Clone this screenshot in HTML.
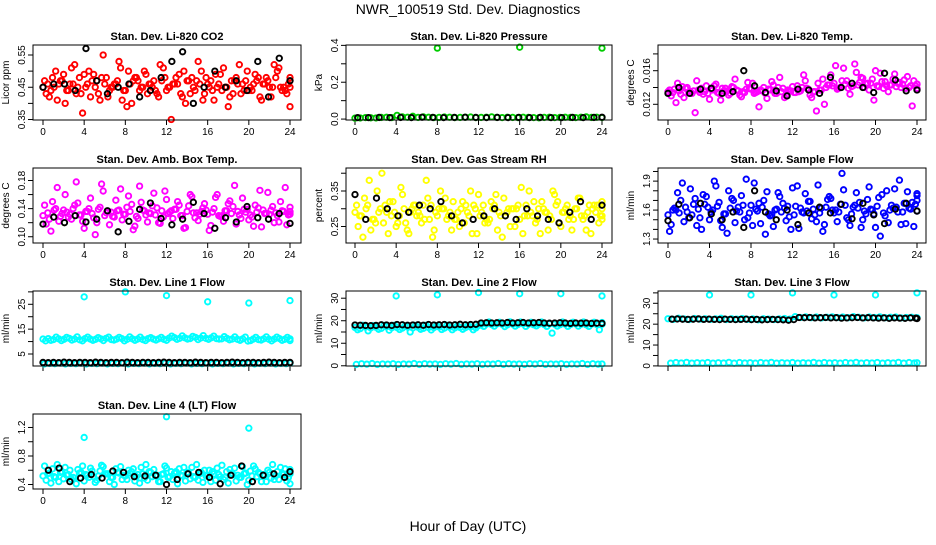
<!DOCTYPE html>
<html><head><meta charset="utf-8"><style>
body{margin:0;background:#fff;width:936px;height:540px;overflow:hidden}
svg text{font-family:"Liberation Sans",sans-serif}
</style></head><body>
<svg id="chart" width="936" height="540" viewBox="0 0 936 540" xmlns="http://www.w3.org/2000/svg">
<rect width="936" height="540" fill="#fff"/>
<text x="468" y="14" text-anchor="middle" font-size="14">NWR_100519  Std. Dev. Diagnostics</text>
<text x="468" y="531" text-anchor="middle" font-size="14">Hour of Day (UTC)</text>
</svg>
<script>
// ---- data ----
const xTicks=[0,4,8,12,16,20,24];
const co2A=[0.45,0.42,0.50,0.47,0.44,0.52,0.43,0.46,0.49,0.41,0.48,0.45,0.53,0.44,0.40,0.47,0.50,0.46,0.43,0.51,0.45,0.48,0.42,0.47,0.44,0.50,0.46,0.41,0.49,0.45,0.43,0.52,0.47,0.44,0.48,0.46,0.42,0.50,0.45,0.47];
const co2B=[0.43,0.48,0.46,0.40,0.51,0.45,0.49,0.42,0.47,0.55,0.44,0.46,0.41,0.50,0.48,0.45,0.43,0.47,0.52,0.44,0.46,0.49,0.40,0.48,0.53,0.43,0.47,0.45,0.51,0.42,0.48,0.46,0.44,0.49,0.41,0.47,0.52,0.45,0.43,0.48];
const co2C=[0.47,0.44,0.41,0.49,0.46,0.43,0.37,0.50,0.45,0.48,0.42,0.46,0.51,0.39,0.47,0.44,0.49,0.45,0.42,0.48,0.35,0.46,0.50,0.43,0.47,0.41,0.45,0.49,0.44,0.39,0.47,0.43,0.50,0.46,0.42,0.48,0.45,0.51,0.44,0.39];
const co2D=[0.46,0.45,0.47,0.44,0.46,0.48,0.45,0.47,0.43,0.46,0.45,0.47,0.44,0.46,0.48,0.45,0.46,0.44,0.47,0.45,0.46,0.43,0.47,0.45,0.46,0.48,0.44,0.46,0.45,0.47,0.46,0.44,0.45,0.47,0.46,0.45,0.48,0.44,0.46,0.45];
const co2K=[0.45,0.46,0.46,0.44,0.57,0.47,0.43,0.45,0.46,0.42,0.44,0.48,0.53,0.56,0.40,0.45,0.50,0.45,0.47,0.44,0.53,0.42,0.54,0.47];
const presG=[0.005,0.006,0.008,0.007,0.006,0.009,0.01,0.008,0.02,0.012,0.01,0.015,0.009,0.012,0.01,0.008,0.009,0.011,0.01,0.008,0.009,0.01,0.011,0.008,0.009,0.01,0.012,0.009,0.008,0.01,0.009,0.008,0.01,0.009,0.008,0.007,0.009,0.01,0.008,0.009,0.01,0.009,0.008,0.01,0.012,0.009,0.01,0.008];
const presOutHours=[8,16,24];
const presOut=[0.385,0.39,0.385];
const presK=[0.008,0.008,0.009,0.008,0.009,0.008,0.01,0.009,0.008,0.009,0.01,0.009,0.008,0.009,0.008,0.009,0.008,0.009,0.008,0.008,0.009,0.008,0.009,0.01];
const tmpA=[.0135,.0138,.0132,.0140,.0136,.0134,.0142,.0137,.0133,.0139,.0141,.0136,.0134,.0138,.0135,.0140,.0137,.0133,.0139,.0136,.0134,.0140,.0138,.0135,.0137,.0143,.0145,.0140,.0148,.0142,.0146,.0144,.0150,.0141,.0147,.0143,.0145,.0149,.0142,.0144];
const tmpB=[.0130,.0145,.0128,.0135,.0148,.0132,.0126,.0144,.0139,.0131,.0150,.0129,.0146,.0133,.0137,.0127,.0143,.0152,.0130,.0141,.0135,.0148,.0128,.0145,.0120,.0155,.0138,.0163,.0132,.0158,.0151,.0137,.0160,.0147,.0135,.0156,.0140,.0153,.0148,.0138];
const tmpC=[.0137,.0122,.0141,.0134,.0110,.0139,.0133,.0142,.0125,.0136,.0140,.0131,.0138,.0145,.0117,.0133,.0147,.0140,.0128,.0136,.0142,.0155,.0131,.0112,.0150,.0143,.0166,.0148,.0139,.0168,.0152,.0145,.0125,.0157,.0142,.0150,.0146,.0139,.0118,.0144];
const tmpD=[.0134,.0136,.0139,.0133,.0137,.0135,.0138,.0134,.0136,.0133,.0137,.0135,.0139,.0134,.0136,.0138,.0133,.0135,.0137,.0134,.0136,.0139,.0135,.0137,.0140,.0142,.0139,.0144,.0141,.0143,.0140,.0145,.0142,.0139,.0143,.0141,.0144,.0140,.0142,.0139];
const tmpK=[.0133,.0140,.0133,.0138,.0139,.0133,.0135,.0160,.0142,.0134,.0136,.0130,.0138,.0137,.0133,.0152,.0140,.0145,.0140,.0134,.0157,.0149,.0136,.0137];
const ambA=[.130,.125,.140,.133,.128,.145,.131,.136,.127,.142,.134,.129,.138,.132,.146,.126,.137,.133,.141,.128,.135,.139,.130,.144,.127,.136,.132,.140,.129,.137,.143,.131,.135,.128,.141,.133,.138,.130,.136,.132];
const ambB=[.118,.150,.122,.160,.125,.148,.112,.155,.120,.165,.117,.152,.124,.158,.115,.149,.121,.162,.119,.153,.126,.145,.113,.157,.123,.147,.116,.160,.122,.151,.118,.155,.124,.145,.114,.163,.120,.150,.117,.142];
const ambC=[.145,.108,.170,.138,.132,.178,.122,.140,.103,.175,.136,.128,.168,.142,.110,.172,.131,.144,.120,.165,.137,.150,.112,.160,.134,.141,.109,.156,.130,.147,.173,.126,.139,.115,.166,.133,.143,.121,.170,.135];
const ambD=[.134,.138,.129,.135,.140,.131,.136,.133,.139,.130,.135,.137,.132,.136,.129,.138,.134,.131,.137,.133,.139,.130,.136,.134,.132,.138,.135,.130,.137,.133,.136,.139,.131,.135,.138,.132,.134,.137,.131,.136];
const ambK=[.118,.128,.120,.130,.121,.125,.137,.107,.122,.139,.148,.126,.117,.125,.149,.133,.112,.127,.121,.143,.127,.125,.133,.119];
const rhA=[.29,.28,.31,.27,.30,.29,.32,.28,.26,.30,.29,.27,.31,.28,.30,.29,.27,.32,.28,.30,.29,.26,.31,.28,.29,.30,.27,.31,.28,.30,.29,.27,.32,.29,.28,.30,.27,.31,.29,.28];
const rhB=[.25,.33,.24,.35,.26,.32,.25,.34,.23,.31,.26,.33,.24,.35,.27,.32,.25,.31,.23,.34,.26,.32,.24,.33,.25,.30,.23,.35,.26,.32,.24,.34,.25,.31,.27,.33,.24,.30,.26,.32];
const rhC=[.31,.22,.38,.26,.40,.23,.29,.36,.24,.31,.28,.38,.22,.30,.33,.24,.29,.26,.35,.23,.31,.27,.34,.22,.30,.25,.36,.28,.32,.23,.29,.35,.26,.30,.24,.33,.28,.23,.31,.27];
const rhD=[.28,.30,.27,.29,.31,.28,.26,.30,.29,.28,.31,.27,.29,.30,.28,.27,.30,.29,.31,.28,.27,.30,.29,.28,.30,.31,.28,.29,.27,.30,.28,.31,.29,.27,.30,.28,.29,.31,.28,.30];
const rhK=[.34,.27,.33,.30,.28,.29,.31,.30,.32,.28,.26,.27,.28,.30,.28,.27,.30,.28,.27,.26,.29,.32,.27,.31];
const sfA=[1.55,1.62,1.70,1.58,1.66,1.52,1.74,1.60,1.68,1.56,1.72,1.63,1.50,1.65,1.59,1.70,1.54,1.61,1.67,1.53,1.64,1.58,1.69,1.55,1.62,1.71,1.57,1.66,1.52,1.63,1.68,1.56,1.60,1.73,1.54,1.65,1.58,1.67,1.61,1.70];
const sfB=[1.45,1.78,1.48,1.82,1.44,1.76,1.50,1.85,1.42,1.80,1.47,1.75,1.52,1.88,1.46,1.79,1.43,1.74,1.49,1.83,1.41,1.77,1.51,1.86,1.45,1.72,1.48,1.81,1.44,1.78,1.50,1.84,1.42,1.76,1.47,1.82,1.45,1.79,1.43,1.75];
const sfC=[1.38,1.60,1.88,1.52,1.72,1.40,1.63,1.90,1.49,1.36,1.70,1.58,1.92,1.44,1.67,1.35,1.55,1.78,1.62,1.40,1.85,1.57,1.69,1.48,1.38,1.74,1.60,1.98,1.50,1.65,1.42,1.71,1.56,1.33,1.80,1.62,1.91,1.46,1.68,1.77];
const sfD=[1.60,1.57,1.63,1.55,1.61,1.66,1.58,1.64,1.56,1.62,1.59,1.65,1.57,1.61,1.63,1.56,1.60,1.58,1.64,1.55,1.62,1.59,1.61,1.57,1.63,1.60,1.58,1.65,1.56,1.62,1.59,1.61,1.64,1.57,1.60,1.63,1.58,1.62,1.66,1.59];
const sfK=[1.49,1.66,1.52,1.67,1.56,1.50,1.58,1.42,1.80,1.58,1.50,1.60,1.45,1.57,1.63,1.57,1.66,1.51,1.67,1.55,1.46,1.61,1.67,1.59];
const l1A=[11,11.2,10.8,11.1,10.9,11.3,11,10.7,11.2,11,10.9,11.1,11.3,10.8,11,11.2,10.9,11.1,11,10.8,11.2,11,11.1,10.9,11.4,11.6,11.3,11.5,11.2,11.7,11.4,11.3,11.5,11.2,11.1,11.3,11,10.9,11.1,10.2,11,10.8,11.1,10.9,11,11.2,10.9,11.1];
const l1B=[10.3,10.5,11.8,10.4,11.7,10.6,11.9,10.3,11.8,10.5,11.6,10.4,11.8,10.6,11.7,10.3,11.9,10.5,11.8,10.4,11.6,10.6,11.7,10.5,12.2,10.9,12.3,11,12.1,10.8,12.4,10.9,12.2,11,12.0,10.7,11.9,10.5,11.8,10.4,11.7,10.6,11.9,10.3,11.8,10.5,11.7,10.4];
const l1Low=[1.0,1.2,1.1,1.3,1.0,1.2,1.1,1.3,1.0,1.2,1.1,1.3,1.0,1.2,1.1,1.3,1.0,1.2,1.1,1.3,1.0,1.2,1.1,1.3,1.0,1.2,1.1,1.3,1.0,1.2,1.1,1.3,1.0,1.2,1.1,1.3,1.0,1.2,1.1,1.3,1.0,1.2,1.1,1.3,1.0,1.2,1.1,1.3];
const l1K=[1.6,1.5,1.6,1.5,1.7,1.6,1.5,1.6,1.6,1.5,1.7,1.6,1.5,1.6,1.6,1.5,1.7,1.6,1.5,1.6,1.6,1.5,1.6,1.7,1.6,1.5,1.6,1.6,1.5,1.7,1.6,1.5,1.6,1.6,1.5,1.6,1.7,1.6,1.5,1.6,1.6,1.5,1.6,1.7,1.6,1.5,1.6,1.6];
const flowOutHours=[4,8,12,16,20,24];
const l1Out=[28,30,28.5,26,25.5,26.5];
const l2A=[17,16.5,17.2,16.8,17.1,16.6,17.3,16.9,17,16.7,17.2,16.8,17.1,16.6,17,16.9,17.2,16.7,17.1,16.8,17,16.9,17.2,16.8,18.2,18.5,18.3,18.6,18.4,18.2,18.5,18.3,18.6,18.4,18.2,18.5,18.3,18.6,18.4,18.2,18.5,18.3,18.6,18.4,18.2,18.5,18.3,18.4];
const l2B=[16,18,15.5,17.8,16.2,17.9,15.8,18,16.1,17.7,15,17.9,16.2,18,15.9,17.8,16.1,18,16,17.8,16.2,17.9,16,17.8,17.5,19.4,17.6,19.3,17.4,19.5,17.6,19.4,17.5,19.3,17.7,19.4,17.5,14.5,17.6,19.4,17.5,19.3,17.6,19.4,17.5,19.3,16,19.2];
const l2Low=[0.6,0.9,0.7,1.0,0.6,0.8,0.7,0.9,0.6,0.8,0.7,1.0,0.6,0.9,0.7,0.8,0.6,0.9,0.7,1.0,0.6,0.8,0.7,0.9,0.6,0.8,0.7,1.0,0.6,0.9,0.7,0.8,0.6,0.9,0.7,1.0,0.6,0.8,0.7,0.9,0.6,0.8,0.7,1.0,0.6,0.9,0.7,0.8];
const l2K=[18.1,18.0,17.9,17.8,17.9,18.2,18.1,17.9,18.3,18.2,18.0,18.1,18.2,18.0,18.3,18.1,18.2,18.3,18.1,18.2,18.4,18.2,18.3,18.4,19.0,19.1,19.0,19.1,19.0,19.2,19.0,19.1,19.2,19.0,19.1,19.2,19.0,18.9,19.0,19.1,19.0,18.8,19.0,18.9,19.0,18.8,18.9,18.8];
const l2Out=[31,31.5,32.5,32,32,31];
const l3A=[22.6,22.3,22.8,22.5,22.2,22.7,22.4,22.6,22.3,22.5,22.8,22.2,22.6,22.4,22.7,22.3,22.5,22.1,22.6,22.4,22.2,22.5,22.7,22.4,23.6,23.2,23.5,23.1,23.4,23.0,23.3,23.5,23.2,23.4,23.1,23.6,23.3,23.0,23.4,23.2,23.5,23.1,23.3,23.4,23.0,23.2,23.3,23.1];
const l3K=[22.4,22.5,22.4,22.3,22.4,22.5,22.3,22.4,22.3,22.2,22.4,22.3,22.2,22.3,22.4,22.2,22.3,22.1,22.2,22.3,22.2,22.1,21.9,22.2,23.2,23.1,23.2,23.0,23.1,23.2,23.0,23.1,22.9,23.0,23.1,23.2,23.0,23.1,23.0,22.9,23.0,22.8,23.0,22.9,22.8,23.0,22.9,22.7];
const l3Low=[1.3,1.6,1.4,1.7,1.3,1.5,1.4,1.6,1.3,1.5,1.4,1.7,1.3,1.6,1.4,1.5,1.3,1.6,1.4,1.7,1.3,1.5,1.4,1.6,1.3,1.5,1.4,1.7,1.3,1.6,1.4,1.5,1.3,1.6,1.4,1.7,1.3,1.5,1.4,1.6,1.3,1.5,1.4,1.7,1.3,1.6,1.4,1.5];
const l3Out=[34,34,35,34,34,35];
const l4A=[0.52,0.56,0.50,0.58,0.54,0.49,0.57,0.53,0.51,0.59,0.55,0.50,0.56,0.52,0.58,0.54,0.49,0.57,0.53,0.55,0.51,0.58,0.52,0.56,0.50,0.57,0.53,0.55,0.51,0.58,0.54,0.50,0.56,0.52,0.57,0.53,0.49,0.58,0.54,0.55];
const l4B=[0.46,0.62,0.44,0.64,0.47,0.61,0.45,0.63,0.46,0.65,0.44,0.62,0.47,0.60,0.45,0.64,0.46,0.61,0.44,0.63,0.47,0.62,0.45,0.64,0.46,0.60,0.44,0.63,0.47,0.61,0.45,0.65,0.46,0.62,0.44,0.60,0.47,0.64,0.45,0.61];
const l4C=[0.66,0.42,0.68,0.48,0.60,0.41,0.66,0.50,0.43,0.67,0.55,0.40,0.65,0.47,0.62,0.42,0.68,0.51,0.44,0.66,0.58,0.41,0.64,0.48,0.68,0.43,0.60,0.46,0.67,0.42,0.63,0.50,0.40,0.66,0.55,0.44,0.68,0.47,0.62,0.41];
const l4D=[0.55,0.51,0.57,0.53,0.50,0.56,0.54,0.59,0.52,0.55,0.50,0.57,0.53,0.56,0.51,0.55,0.58,0.52,0.54,0.50,0.56,0.53,0.57,0.51,0.55,0.52,0.58,0.54,0.50,0.56,0.53,0.55,0.59,0.51,0.54,0.57,0.52,0.55,0.50,0.56];
const l4K=[0.60,0.63,0.44,0.49,0.54,0.49,0.59,0.57,0.51,0.52,0.53,0.40,0.47,0.55,0.57,0.50,0.41,0.53,0.66,0.44,0.53,0.55,0.50,0.58];
const l4OutHours=[4,12,20];
const l4Out=[1.06,1.35,1.19];

// ---- layout ----
const svg=document.getElementById('chart');
const NS='http://www.w3.org/2000/svg';
const cols=[{l:33,r:301,x0:43,x24:290},{l:346,r:612,x0:355,x24:602},{l:658,r:926,x0:668,x24:917}];
const rows=[45,168,291,414];
const H=75;
function el(tag,attrs,parent){const e=document.createElementNS(NS,tag);for(const k in attrs)e.setAttribute(k,attrs[k]);(parent||svg).appendChild(e);return e;}

function panel(o){
  const c=cols[o.col],top=rows[o.row],bot=top+H;
  const g=el('g',{});
  
  
  const sx=h=>c.x0+(h/24)*(c.x24-c.x0);
  const sy=v=>bot-(v-o.ymin)/(o.ymax-o.ymin)*H;
  const t=el('text',{x:(c.l+c.r)/2,y:top-5,'text-anchor':'middle','font-size':11,'font-weight':'bold'},g);
  t.textContent=o.title;
  
  
  const yl=el('text',{transform:`translate(${c.l-24},${top+H/2}) rotate(-90)`,'text-anchor':'middle','font-size':10},g);
  yl.textContent=o.ylab;
  
  
  xTicks.forEach(h=>{
    el('line',{x1:sx(h),x2:sx(h),y1:bot,y2:bot+5,stroke:'#000'},g);
    if(o.row!==2){const tx=el('text',{x:sx(h),y:bot+15,'text-anchor':'middle','font-size':10},g);tx.textContent=h;
      
      }
  });
  o.yticks.forEach(v=>{el('line',{x1:c.l,x2:c.l-5,y1:sy(v),y2:sy(v),stroke:'#000'},g);});
  o.ylabels.forEach(v=>{
    const tx=el('text',{transform:`translate(${c.l-8},${sy(v)}) rotate(-90)`,'text-anchor':'middle','font-size':10},g);
    tx.textContent=v.toFixed(o.dec);
    
    
  });
  o.series.forEach((s,si)=>{
    const n=s.v.length;
    const off=s.h?0:[0,0.5,0.25,0.75][si%4]; // stagger passes horizontally
    s.v.forEach((v,i)=>{
      const h=s.h?s.h[i]:Math.min(24,(i+off)*24/(n-1));
      const p=el('circle',{cx:sx(h),cy:sy(v),r:2.7,fill:'none',stroke:s.c,'stroke-width':1.9},g);
      
      
    });
  });
  const b=el('rect',{x:c.l,y:top,width:c.r-c.l,height:H,fill:'none',stroke:'#000','stroke-width':1},g);
  
  
}
const R='#ff0000',M='#ff00ff',Y='#ffff00',B='#0000ff',C='#00ffff',G='#00cc00',K='#000';
panel({name:'panel-co2',col:0,row:0,title:'Stan. Dev. Li-820 CO2',ylab:'Licor ppm',ymin:0.3485,ymax:0.581,yticks:[.35,.4,.45,.5,.55],ylabels:[.35,.45,.55],dec:2,series:[{v:co2A,c:R},{v:co2B,c:R},{v:co2C,c:R},{v:co2D,c:R},{v:co2K,c:K}]});
panel({name:'panel-pressure',col:1,row:0,title:'Stan. Dev. Li-820 Pressure',ylab:'kPa',ymin:-0.005,ymax:0.402,yticks:[0,.1,.2,.3,.4],ylabels:[0,.2,.4],dec:1,series:[{v:presG,c:G},{v:presOut,h:presOutHours,c:G},{v:presK,c:K}]});
panel({name:'panel-li820-temp',col:2,row:0,title:'Stan. Dev. Li-820 Temp.',ylab:'degrees C',ymin:0.01013,ymax:0.01906,yticks:[.012,.014,.016,.018],ylabels:[.012,.016],dec:3,series:[{v:tmpA,c:M},{v:tmpB,c:M},{v:tmpC,c:M},{v:tmpD,c:M},{v:tmpK,c:K}]});
panel({name:'panel-amb-box-temp',col:0,row:1,title:'Stan. Dev. Amb. Box Temp.',ylab:'degrees C',ymin:0.0911,ymax:0.1978,yticks:[.10,.12,.14,.16,.18],ylabels:[.10,.14,.18],dec:2,series:[{v:ambA,c:M},{v:ambB,c:M},{v:ambC,c:M},{v:ambD,c:M},{v:ambK,c:K}]});
panel({name:'panel-gas-rh',col:1,row:1,title:'Stan. Dev. Gas Stream RH',ylab:'percent',ymin:0.2036,ymax:0.4147,yticks:[.25,.30,.35,.40],ylabels:[.25,.35],dec:2,series:[{v:rhA,c:Y},{v:rhB,c:Y},{v:rhC,c:Y},{v:rhD,c:Y},{v:rhK,c:K}]});
panel({name:'panel-sample-flow',col:2,row:1,title:'Stan. Dev. Sample Flow',ylab:'ml/min',ymin:1.259,ymax:2.036,yticks:[1.3,1.4,1.5,1.6,1.7,1.8,1.9,2.0],ylabels:[1.3,1.6,1.9],dec:1,series:[{v:sfA,c:B},{v:sfB,c:B},{v:sfC,c:B},{v:sfD,c:B},{v:sfK,c:K}]});
panel({name:'panel-line1-flow',col:0,row:2,title:'Stan. Dev. Line 1 Flow',ylab:'ml/min',ymin:0.17,ymax:30.35,yticks:[5,10,15,20,25,30],ylabels:[5,15,25],dec:0,series:[{v:l1A,c:C},{v:l1B,c:C},{v:l1Low,c:C},{v:l1Out,h:flowOutHours,c:C},{v:l1K,c:K}]});
panel({name:'panel-line2-flow',col:1,row:2,title:'Stan. Dev. Line 2 Flow',ylab:'ml/min',ymin:-0.1,ymax:33.2,yticks:[0,5,10,15,20,25,30],ylabels:[0,10,20,30],dec:0,series:[{v:l2A,c:C},{v:l2B,c:C},{v:l2Low,c:C},{v:l2Out,h:flowOutHours,c:C},{v:l2K,c:K}]});
panel({name:'panel-line3-flow',col:2,row:2,title:'Stan. Dev. Line 3 Flow',ylab:'ml/min',ymin:-0.05,ymax:35.9,yticks:[0,5,10,15,20,25,30,35],ylabels:[0,10,20,30],dec:0,series:[{v:l3A,c:C},{v:l3Low,c:C},{v:l3Out,h:flowOutHours,c:C},{v:l3K,c:K}]});
panel({name:'panel-line4-flow',col:0,row:3,title:'Stan. Dev. Line 4 (LT) Flow',ylab:'ml/min',ymin:0.337,ymax:1.389,yticks:[.4,.6,.8,1.0,1.2],ylabels:[.4,.8,1.2],dec:1,series:[{v:l4A,c:C},{v:l4B,c:C},{v:l4C,c:C},{v:l4D,c:C},{v:l4Out,h:l4OutHours,c:C},{v:l4K,c:K}]});
</script>
</body></html>
